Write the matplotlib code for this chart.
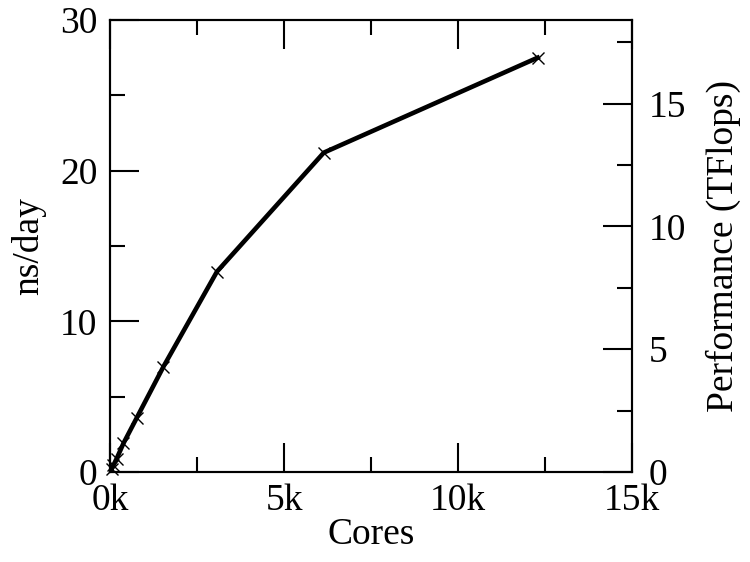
import matplotlib
matplotlib.use("Agg")
import matplotlib.pyplot as plt
from matplotlib.ticker import MultipleLocator, FuncFormatter

cores = [48, 96, 192, 384, 768, 1536, 3072, 6144, 12288]
ns_per_day = [0.22, 0.45, 0.9, 1.9, 3.6, 7.0, 13.3, 21.2, 27.5]
tflops_max = 18.4  # right axis top corresponding to 30 ns/day

plt.rcParams['font.family'] = ['Liberation Serif', 'DejaVu Serif']
fs = 27

fig = plt.figure(figsize=(7.5, 5.62), dpi=100)
ax = fig.add_axes([0.1467, 0.160, 0.696, 0.8044])
ax.plot(cores, ns_per_day, color='black', lw=3.3, marker='x', ms=8, mew=1.0, clip_on=False)
ax.set_xlim(0, 15000)
ax.set_ylim(0, 30)
ax.xaxis.set_major_locator(MultipleLocator(5000))
ax.xaxis.set_minor_locator(MultipleLocator(2500))
ax.yaxis.set_major_locator(MultipleLocator(10))
ax.yaxis.set_minor_locator(MultipleLocator(5))
ax.xaxis.set_major_formatter(FuncFormatter(lambda v, p: f"{int(round(v/1000))}k"))
ax.tick_params(which='both', direction='in', top=True, right=False, width=1.5, labelsize=fs)
ax.tick_params(axis='x', pad=8)
ax.tick_params(axis='y', pad=9)
ax.tick_params(which='major', length=21)
ax.tick_params(which='minor', length=11)
for s in ax.spines.values():
    s.set_linewidth(1.5)
ax.set_xlabel('Cores', fontsize=fs, labelpad=0)
ax.set_ylabel('ns/day', fontsize=fs, labelpad=10)

ax2 = ax.twinx()
ax2.set_ylim(0, tflops_max)
ax2.yaxis.set_major_locator(MultipleLocator(5))
ax2.yaxis.set_minor_locator(MultipleLocator(2.5))
ax2.tick_params(which='both', direction='in', width=1.5, labelsize=fs, pad=12)
ax2.tick_params(which='major', length=21)
ax2.tick_params(which='minor', length=11)
ax2.set_ylabel('Performance (TFlops)', fontsize=fs, labelpad=14)
for s in ax2.spines.values():
    s.set_linewidth(1.5)

fig.savefig('out.png', dpi=100)
